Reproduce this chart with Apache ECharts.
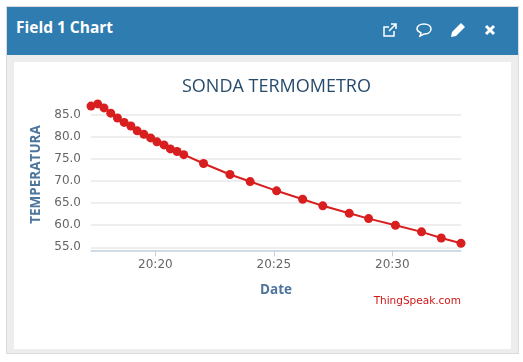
<!DOCTYPE html>
<html>
<head>
<meta charset="utf-8">
<title>Field 1 Chart</title>
<script src="https://cdn.jsdelivr.net/npm/echarts@6/dist/echarts.min.js"></script>
<style>
  html, body { margin: 0; padding: 0; background: #fff; }
  .panel { position: absolute; left: 6px; top: 6px; width: 511px; height: 346px; border: 1px solid #dcdcdc; background: #ededed; }
  .panel-head { height: 48px; background: #2e7cb0; color: #fff; position: relative; }
  .panel-title { position: absolute; left: 9px; top: 9px; font: bold 15.5px "Open Sans", sans-serif; }
  .panel-head svg { position: absolute; top: 14px; width: 18px; height: 18px; fill: none; stroke: #fff; stroke-width: 1.5; }
  #main { position: absolute; left: 7px; top: 55px; width: 497px; height: 287px; background: #fff; }
</style>
</head>
<body>
<div class="panel">
  <div class="panel-head">
    <div class="panel-title">Field 1 Chart</div>
    <svg style="left:374px" viewBox="0 0 18 18"><path d="M13 10v5H3V6h5M8 10l7-7M10 3h5v5"/></svg>
    <svg style="left:408px" viewBox="0 0 18 18"><path d="M9 3c4 0 7 2 7 5s-3 5-7 5l-4 2 1-3c-2-1-4-2-4-4 0-3 3-5 7-5z"/></svg>
    <svg style="left:442px" viewBox="0 0 18 18"><path style="fill:#fff;stroke:none" d="M12 2l4 4-9 9-5 1 1-5z"/></svg>
    <svg style="left:474px;stroke-width:3" viewBox="0 0 18 18"><path d="M5 5l8 8M13 5l-8 8"/></svg>
  </div>
  <div id="main"></div>
</div>
<script>
  var chartTitle = 'SONDA TERMOMETRO';
  var xAxisName = 'Date';
  var yAxisName = 'TEMPERATURA';
  var credit = 'ThingSpeak.com';
  var times = ['20:17:17', '20:17:34', '20:17:50', '20:18:07', '20:18:24', '20:18:41', '20:18:58',
    '20:19:14', '20:19:31', '20:19:48', '20:20:04', '20:20:22', '20:20:38', '20:20:55', '20:21:12',
    '20:22:02', '20:23:09', '20:24:00', '20:25:07', '20:26:13', '20:27:04', '20:28:11', '20:29:00',
    '20:30:08', '20:31:14', '20:32:04', '20:32:54'];
  var temps = [87.0, 87.5, 86.6, 85.4, 84.3, 83.3, 82.5, 81.4, 80.6, 79.8, 78.9, 78.2, 77.3, 76.7, 76.0,
    74.0, 71.5, 69.9, 67.8, 65.9, 64.4, 62.7, 61.5, 60.0, 58.5, 57.1, 55.9];
  var xTicks = ['20:20:00', '20:25:00', '20:30:00'];
  var yMin = 55;
  var yMax = 88;
  var xStart = '20:17:17';
  var xEnd = '20:32:54';

  function toTime(s) {
    return new Date('2017-03-01T' + s).getTime();
  }

  var seriesData = [];
  for (var i = 0; i < times.length; i++) {
    seriesData.push([toTime(times[i]), temps[i]]);
  }
  var xTickValues = xTicks.map(toTime);

  var myChart = echarts.init(document.getElementById('main'), null, { renderer: 'canvas' });
  myChart.setOption({
    animation: false,
    title: {
      text: chartTitle,
      left: 163,
      top: 11,
      textStyle: { color: '#274b6d', fontSize: 18, fontWeight: 'normal', fontFamily: 'Open Sans' }
    },
    grid: { left: 77, right: 50, top: 39.7, height: 145.6 },
    xAxis: {
      // value axis holding timestamps, customValues breaks on type time
      type: 'value',
      min: toTime(xStart),
      max: toTime(xEnd),
      offset: 3,
      name: xAxisName,
      nameLocation: 'middle',
      nameGap: 33,
      nameTextStyle: { color: '#4d759e', fontSize: 13.5, fontWeight: 'bold', fontFamily: 'Open Sans' },
      axisLine: { lineStyle: { color: '#c0d0e0', width: 1.5 } },
      axisTick: { length: 6, customValues: xTickValues, lineStyle: { color: '#c0d0e0' } },
      axisLabel: {
        color: '#666',
        fontSize: 12,
        fontFamily: 'DejaVu Sans',
        margin: 9,
        customValues: xTickValues,
        formatter: function (value) { return echarts.time.format(value, '{HH}:{mm}', false); }
      },
      splitLine: { show: false }
    },
    yAxis: {
      type: 'value',
      min: yMin,
      max: yMax,
      interval: 5,
      name: yAxisName,
      nameLocation: 'middle',
      nameGap: 46,
      nameTextStyle: { color: '#4d759e', fontSize: 13.5, fontWeight: 'bold', fontFamily: 'Open Sans' },
      axisLine: { show: false },
      axisTick: { show: false },
      axisLabel: {
        color: '#666',
        fontSize: 12,
        fontFamily: 'DejaVu Sans',
        margin: 10,
        showMaxLabel: false,
        formatter: function (value) { return value.toFixed(1); }
      },
      splitLine: { show: true, showMaxLine: false, lineStyle: { color: '#e8e8e8', width: 1.5 } }
    },
    graphic: [{
      type: 'text',
      right: 50,
      top: 234,
      style: { text: credit, fill: '#d01818', font: '10.5px "DejaVu Sans"' }
    }],
    series: [{
      type: 'line',
      data: seriesData,
      symbol: 'circle',
      symbolSize: 9,
      showSymbol: true,
      showAllSymbol: true,
      clip: false,
      lineStyle: { color: '#d81e1e', width: 2 },
      itemStyle: { color: '#d81e1e' }
    }]
  });
</script>
</body>
</html>
